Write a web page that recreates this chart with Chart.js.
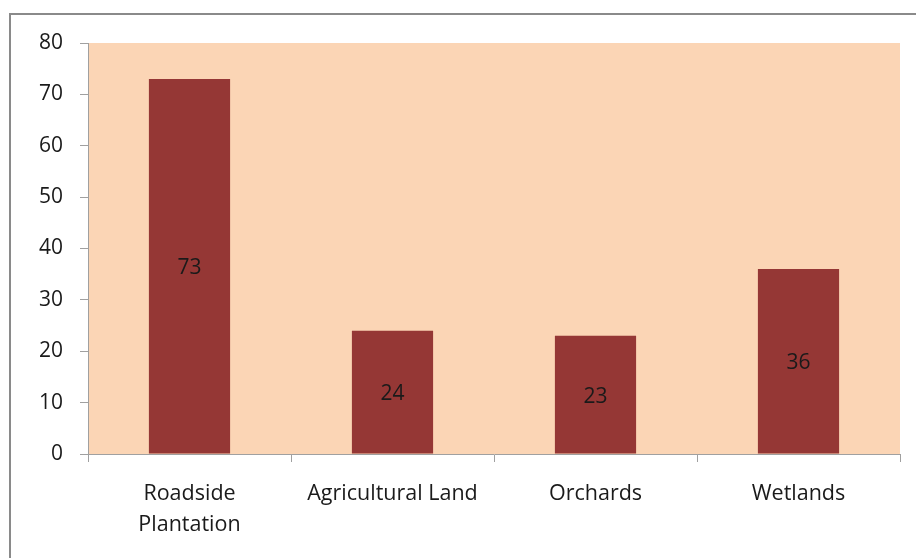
<!DOCTYPE html>
<html>
<head>
<meta charset="utf-8">
<script src="https://cdn.jsdelivr.net/npm/chart.js@4.4.1/dist/chart.umd.min.js"></script>
<style>
  html, body { margin: 0; padding: 0; background: #ffffff; }
  #wrap { position: relative; width: 916px; height: 558px; overflow: hidden; }
  #frame { position: absolute; left: 9px; top: 13px; width: 1000px; height: 1000px; border: 2px solid #8a8a8a; box-sizing: border-box; }
  canvas { position: absolute; left: 0; top: 0; }
</style>
</head>
<body>
<div id="wrap">
  <div id="frame"></div>
  <canvas id="c" width="916" height="558"></canvas>
</div>
<script>
const categories = [["Roadside", "Plantation"], "Agricultural Land", "Orchards", "Wetlands"];
const values = [73, 24, 23, 36];
const yTicks = [0, 10, 20, 30, 40, 50, 60, 70, 80];

const FONT = "Open Sans";
const PLOT_BG = "#FBD5B5";
const BAR = "#953735";
const AXIS = "#a0a0a0";

const plotBg = {
  id: "plotBg",
  beforeDraw(chart) {
    const { ctx, chartArea: a } = chart;
    ctx.save();
    ctx.fillStyle = PLOT_BG;
    ctx.fillRect(a.left, a.top, a.right - a.left, a.bottom - a.top);
    ctx.restore();
  }
};

const barLabels = {
  id: "barLabels",
  afterDatasetsDraw(chart) {
    const { ctx } = chart;
    const meta = chart.getDatasetMeta(0);
    ctx.save();
    ctx.fillStyle = "#1a1a1a";
    ctx.font = "21px '" + FONT + "'";
    ctx.textAlign = "center";
    ctx.textBaseline = "middle";
    meta.data.forEach((bar, i) => {
      const y = (bar.y + bar.base) / 2 + 2;
      ctx.fillText(String(values[i]), bar.x, y);
    });
    ctx.restore();
  }
};

new Chart(document.getElementById("c"), {
  type: "bar",
  data: {
    labels: categories,
    datasets: [{
      data: values,
      backgroundColor: BAR,
      borderWidth: 0,
      categoryPercentage: 0.4,
      barPercentage: 1.0
    }]
  },
  options: {
    responsive: false,
    animation: false,
    events: [],
    layout: { padding: { left: 0, right: 16, top: 43, bottom: 0 } },
    plugins: { legend: { display: false }, tooltip: { enabled: false } },
    scales: {
      x: {
        grid: { display: true, drawOnChartArea: false, offset: true, tickLength: 8, color: AXIS, lineWidth: 1 },
        border: { display: true, color: AXIS, width: 1 },
        ticks: { color: "#1a1a1a", font: { family: FONT, size: 21.5, lineHeight: 1.42 }, padding: 17, maxRotation: 0, autoSkip: false },
        afterFit(s) { s.height = 104; }
      },
      y: {
        min: 0, max: 80,
        afterBuildTicks(s) { s.ticks = yTicks.map(v => ({ value: v })); },
        grid: { display: true, drawOnChartArea: false, tickLength: 8, color: AXIS, lineWidth: 1 },
        border: { display: true, color: AXIS, width: 1 },
        ticks: { color: "#1a1a1a", font: { family: FONT, size: 21 }, padding: 17 },
        afterFit(s) { s.width = 88; }
      }
    }
  },
  plugins: [plotBg, barLabels]
});
</script>
</body>
</html>
